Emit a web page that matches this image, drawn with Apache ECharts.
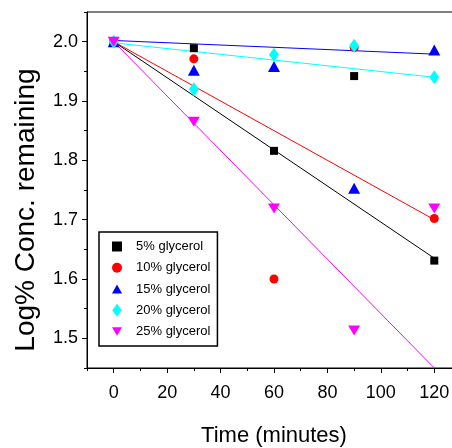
<!DOCTYPE html>
<html>
<head>
<meta charset="utf-8">
<script src="https://cdn.jsdelivr.net/npm/echarts@6/dist/echarts.min.js"></script>
<style>html,body{margin:0;padding:0;background:#fff}#c{width:452px;height:448px}</style>
</head>
<body>
<div id="c"></div>
<script>
const times = [0, 30, 60, 90, 120];
const glycerol5 = [2.0, 1.989, 1.816, 1.942, 1.631];
const glycerol10 = [2.0, 1.971, 1.600, 1.99, 1.702];
const glycerol15 = [2.0, 1.952, 1.958, 1.753, 1.986];
const glycerol20 = [2.0, 1.920, 1.978, 1.993, 1.940];
const glycerol25 = [2.0, 1.865, 1.719, 1.513, 1.719];
const fitTimes = [0, 120];
const fit5 = [2.0, 1.635];
const fit10 = [2.0, 1.70];
const fit15 = [2.002, 1.979];
const fit20 = [1.998, 1.940];
const fit25 = [2.0, 1.45];
const seriesNames = ['5% glycerol', '10% glycerol', '15% glycerol', '20% glycerol', '25% glycerol'];
const xMajorTicks = [0, 20, 40, 60, 80, 100, 120];
const yMajorTicks = [1.5, 1.6, 1.7, 1.8, 1.9, 2.0];

const colors = ['#000000', '#ff0000', '#0000ff', '#00ffff', '#ff00ff'];
const pts = [glycerol5, glycerol10, glycerol15, glycerol20, glycerol25];
const fits = [fit5, fit10, fit15, fit20, fit25];
const symbols = [
  {symbol: 'rect', size: 8, rotate: 0, icon: 'path://M0,0L10,0L10,10L0,10Z'},
  {symbol: 'circle', size: 9, rotate: 0, icon: 'circle'},
  {symbol: 'triangle', size: [12, 11], rotate: 0, icon: 'path://M6,0L12,11L0,11Z'},
  {symbol: 'diamond', size: [10, 14], rotate: 0, icon: 'path://M5,0L10,7L5,14L0,7Z'},
  {symbol: 'triangle', size: [12, 10], rotate: 180, icon: 'path://M0,0L12,0L6,10Z'}
];
const pair = (xs, ys) => xs.map((x, i) => [x, ys[i]]);

const series = [];
fits.forEach((f, i) => {
  series.push({
    name: 'fit' + i, type: 'line', data: pair(fitTimes, f), symbol: 'none',
    lineStyle: {color: colors[i], width: 1}, z: 2, silent: true, animation: false
  });
});
pts.forEach((p, i) => {
  series.push({
    name: seriesNames[i], type: 'scatter', data: pair(times, p),
    symbol: symbols[i].symbol, symbolSize: symbols[i].size, symbolRotate: symbols[i].rotate,
    itemStyle: {color: colors[i], opacity: 1}, z: 3 + i, animation: false
  });
});

const font = 'Liberation Sans, Arial, sans-serif';
const chart = echarts.init(document.getElementById('c'), null, {renderer: 'canvas'});
chart.setOption({
  backgroundColor: '#fff',
  animation: false,
  grid: {left: 87, top: 12, width: 374, height: 356, show: true, borderColor: '#000', borderWidth: 1,
    containLabel: false, outerBoundsMode: 'none'},
  legend: {
    data: seriesNames.map((n, i) => ({name: n, icon: symbols[i].icon})),
    orient: 'vertical', left: 99, top: 232,
    padding: [8, 7, 8, 13], itemWidth: 10, itemHeight: 13, itemGap: 8.25,
    symbolKeepAspect: true,
    borderColor: '#000', borderWidth: 1.5, backgroundColor: '#fff',
    textStyle: {fontFamily: font, fontSize: 13, lineHeight: 13, color: '#000', padding: [0, 0, 0, 9]}
  },
  xAxis: [{
    type: 'value', min: -10, max: 130, interval: 10,
    name: 'Time (minutes)', nameLocation: 'middle', nameGap: 57,
    nameTextStyle: {fontFamily: font, fontSize: 22, color: '#000'},
    axisLine: {onZero: false, lineStyle: {color: '#000', width: 1}},
    axisTick: {show: true, inside: false, length: 3, lineStyle: {color: '#000'}},
    axisLabel: {show: false}, splitLine: {show: false}
  }, {
    type: 'value', min: -10, max: 130, position: 'bottom', offset: 0,
    axisLine: {show: false, onZero: false},
    axisTick: {show: true, inside: false, length: 5, customValues: xMajorTicks, lineStyle: {color: '#000'}},
    axisLabel: {show: true, customValues: xMajorTicks, margin: 16, fontFamily: font, fontSize: 18, color: '#000'},
    splitLine: {show: false}
  }],
  yAxis: [{
    type: 'value', min: 1.45, max: 2.05, interval: 0.05,
    name: 'Log% Conc. remaining', nameLocation: 'middle', nameGap: 47,
    nameTextStyle: {fontFamily: font, fontSize: 28, color: '#000', padding: [0, 40, 0, 0]},
    axisLine: {show: true, onZero: false, lineStyle: {color: '#000', width: 1}},
    axisTick: {show: true, inside: false, length: 3, lineStyle: {color: '#000'}},
    axisLabel: {show: false}, splitLine: {show: false}
  }, {
    type: 'value', min: 1.45, max: 2.05, position: 'left', offset: 0,
    axisLine: {show: false, onZero: false},
    axisTick: {show: true, inside: false, length: 5, customValues: yMajorTicks, lineStyle: {color: '#000'}},
    axisLabel: {show: true, customValues: yMajorTicks, margin: 9, fontFamily: font, fontSize: 18, color: '#000',
      formatter: v => v.toFixed(1)},
    splitLine: {show: false}
  }],
  series: series
});
</script>
</body>
</html>
